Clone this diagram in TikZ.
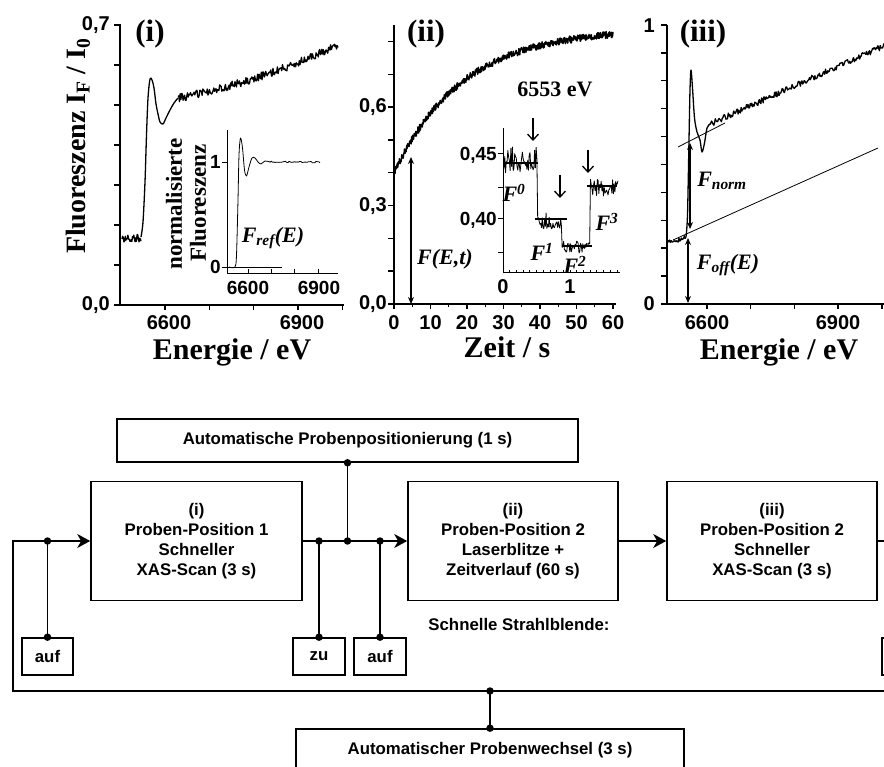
\documentclass[tikz,border=0pt]{standalone}
\usepackage{fontspec}
\setmainfont{Liberation Serif}
\setsansfont{Liberation Sans}
\usetikzlibrary{arrows.meta}
\begin{document}
\begin{tikzpicture}[x=1pt,y=-1pt,
  ax/.style={line width=1.4pt},
  crv/.style={line width=1.3pt,line join=round},
  thn/.style={line width=0.8pt,line join=round},
  tkl/.style={font=\sffamily\bfseries\fontsize{20}{20}\selectfont,inner sep=0pt},
  tks/.style={font=\sffamily\bfseries\fontsize{19}{19}\selectfont,inner sep=0pt},
  albl/.style={font=\rmfamily\bfseries\fontsize{30}{30}\selectfont,inner sep=0pt},
  ylbl/.style={font=\rmfamily\bfseries\fontsize{28}{28}\selectfont,inner sep=0pt,rotate=90},
  ilbl/.style={font=\rmfamily\bfseries\fontsize{23}{23}\selectfont,inner sep=0pt,rotate=90},
  plbl/.style={font=\rmfamily\bfseries\fontsize{31}{31}\selectfont,inner sep=0pt},
  ebl/.style={font=\rmfamily\bfseries\fontsize{22}{22}\selectfont,inner sep=0pt},
  fl/.style={font=\rmfamily\bfseries\itshape\fontsize{22}{22}\selectfont,inner sep=0pt},
  dbl/.style={line width=1.1pt,{Stealth[length=7pt,width=6pt]}-{Stealth[length=7pt,width=6pt]}},
  darr/.style={line width=1.3pt,-{Straight Barb[length=6pt,width=11pt]}},
  flow/.style={draw,line width=1.6pt,font=\sffamily\bfseries\fontsize{16.8}{20}\selectfont,align=center,inner sep=0pt},
  flowtxt/.style={font=\sffamily\bfseries\fontsize{16.8}{20}\selectfont,inner sep=0pt},
  wire/.style={line width=1.6pt,line join=miter},
  warr/.style={line width=1.6pt,line join=miter,-{Stealth[length=13pt,width=14pt,inset=4pt]}},
  jdot/.style={circle,fill=black,inner sep=0pt,minimum size=7.5pt},
]
\useasboundingbox (0,0) rectangle (884,767);
\pgfmathsetseed{7}

% ================= Panel (i) =================
\draw[ax] (120,24) -- (120,305) -- (344,305);
\foreach \k in {0,...,7} \draw[ax] (114,{305-40*\k}) -- (120,{305-40*\k});
\foreach \k in {0,...,4} \draw[ax] ({165+44.3*\k},305) -- ({165+44.3*\k},310);
\node[tkl,anchor=east] (i07) at (110,25) {0,7};
\node[tkl,anchor=east] (i00) at (110,305) {0,0};
\node[tkl] (i6600) at (169,323) {6600};
\node[tkl] (i6900) at (302,323) {6900};
\node[albl,anchor=base] (ixl) at (232,360) {Energie / eV};
\node[ylbl] (yl) at (78,146) {Fluoreszenz I\textsubscript{F} / I\textsubscript{0}};
\node[plbl] (pi) at (150,34) {(i)};
\draw[crv] plot[domain=122:141,samples=30] (\x,{238+4*rand});
\draw[crv] plot[smooth,tension=0.5] coordinates {(141,237) (143,222) (145,182) (146.5,135) (148,98) (150,79) (152,80) (154,88) (156,104) (158,114) (160,122) (163,124) (166,118) (170,110) (174,103) (178,98)};
\draw[crv] plot[domain=178:338,samples=220] (\x,{98-0.188*(\x-178)-0.000896*(\x-178)*(\x-178)+4*rand});

% inset (i)
\draw[thn] (227,130) -- (227,273) -- (338,273);
\draw[thn] (222,162) -- (227,162);
\draw[thn] (222,267) -- (227,267);
\foreach \xx in {248,271.3,294.7,318} \draw[thn] (\xx,273) -- (\xx,269);
\node[tks,anchor=east] (n1) at (221,162) {1};
\node[tks,anchor=east] (n0) at (221,267) {0};
\node[tks] (i2a) at (248,288) {6600};
\node[tks] (i2b) at (319,288) {6900};
\draw[thn] (227,267) -- (282,267);
\draw[thn] plot[smooth,tension=0.5] coordinates {(229,267) (235,267) (236.5,255) (238,200) (239,155) (240.5,138) (242.5,148) (244.5,170) (246.5,176) (249,167) (252,158) (255,158) (258,162) (261,164) (265,161) (270,162)};
\draw[thn] plot[domain=270:320,samples=40] (\x,{162+0.8*rand});
\node[ilbl] (nl1) at (174,204) {normalisierte};
\node[ilbl] (nl2) at (198,203) {Fluoreszenz};
\node[fl] (fref) at (273,238) {F\textsubscript{ref}(E)};

% ================= Panel (ii) =================
\draw[ax] (394,25) -- (394,304) -- (616,304);
\foreach \k in {0,...,8} \draw[ax] (388,{304-32.8*\k}) -- (394,{304-32.8*\k});
\foreach \t in {0,10,...,60} \draw[ax] ({394+3.65*\t},304) -- ({394+3.65*\t},309);
\foreach \t in {5,15,...,55} \draw[ax] ({394+3.65*\t},304) -- ({394+3.65*\t},307);
\foreach \t in {0,10,...,60} \node[tkl] (xt\t) at ({394+3.65*\t},323) {\t};
\node[tkl,anchor=east] (ii00) at (387,304) {0,0};
\node[tkl,anchor=east] (ii03) at (387,205.6) {0,3};
\node[tkl,anchor=east] (ii06) at (387,107.2) {0,6};
\node[albl,anchor=base] (iixl) at (507,358) {Zeit / s};
\node[plbl] (pii) at (426,34) {(ii)};
\node[ebl] (ev) at (555,89) {6553 eV};
\draw[line width=1.4pt,line join=round] plot[domain=0:60,samples=650] ({394+3.65*\x},{304-328*(0.84-0.44*exp(-\x/18.8))+3.5*rand});
\draw[dbl] (411,157) -- (411,304);
\node[fl] (fet) at (445,259) {F(E,t)};

% inset (ii)
\draw[line width=1pt] (503,128) -- (503,273) -- (620,273);
\foreach \yy in {154,188,219,253} \draw[line width=1pt] (498,\yy) -- (503,\yy);
\foreach \k in {0,...,17} \draw[line width=0.8pt] ({503+6.7*\k},273) -- ({503+6.7*\k},270);
\node[tks,anchor=east] (l45) at (497,155) {0,45};
\node[tks,anchor=east] (l40) at (497,220) {0,40};
\node[tkl] (l0) at (503,287) {0};
\node[tkl] (l1) at (570,287) {1};
\draw[thn] plot[domain=504:618,samples=150] (\x,{ifthenelse(\x<537,160,ifthenelse(\x<562,221,ifthenelse(\x<590,247,188))) + ifthenelse(\x<537,13,ifthenelse(\x<562,8,ifthenelse(\x<590,6,9)))*rand});
\draw[line width=1.4pt] (503,163) -- (538,163);
\draw[line width=1.4pt] (535,219) -- (567,219);
\draw[line width=1.4pt] (562,246) -- (592,246);
\draw[line width=1.4pt] (587,186) -- (617,186);
\draw[darr] (533,118) -- (533,141);
\draw[darr] (560,175) -- (560,198);
\draw[darr] (588,150) -- (588,173);
\node[fl] (f0) at (514,193) {F\textsuperscript{0}};
\node[fl] (f1) at (542,252) {F\textsuperscript{1}};
\node[fl] (f2) at (575,265) {F\textsuperscript{2}};
\node[fl] (f3) at (607,222) {F\textsuperscript{3}};

% ================= Panel (iii) =================
\draw[ax] (667,25) -- (667,304) -- (884,304);
\foreach \k in {0,...,10} \draw[ax] (661,{304-27.9*\k}) -- (667,{304-27.9*\k});
\foreach \k in {0,...,4} \draw[ax] ({707+43.7*\k},304) -- ({707+43.7*\k},309);
\node[tkl,anchor=east] (iii1) at (655,26) {1};
\node[tkl,anchor=east] (iii0) at (655,304) {0};
\node[tkl] (iii6600) at (707,323) {6600};
\node[tkl] (iii6900) at (838,323) {6900};
\node[albl,anchor=base] (iiixl) at (779,360) {Energie / eV};
\node[plbl] (piii) at (703,34) {(iii)};
\draw[crv] plot[domain=668:686,samples=24] (\x,{243-0.3*(\x-667)+2.5*rand});
\draw[crv] plot[smooth,tension=0.5] coordinates {(686,237) (687.5,215) (689,140) (690,90) (691,70) (692.5,88) (694.5,118) (697,132) (700,140) (702,152) (704.5,143) (707,128) (710,124)};
\draw[crv] plot[domain=710:884,samples=230] (\x,{124-0.45*(\x-710)+3*rand});
\draw[thn] (678,147) -- (725,123);
\draw[thn] (673,240) -- (878,148);
\draw[dbl] (690,143) -- (690,229);
\draw[dbl] (688,238) -- (688,303);
\node[fl] (fnorm) at (722,181) {F\textsubscript{norm}};
\node[fl] (foff) at (728,265) {F\textsubscript{off}(E)};

% ================= Flowchart =================
\node[flow,minimum width=461pt,minimum height=43pt] (tb) at (347.5,440.5) {Automatische Probenpositionierung (1 s)};
\node[flow,minimum width=211pt,minimum height=119pt] (b1) at (196.5,541) {(i)\\Proben-Position 1\\Schneller\\XAS-Scan (3 s)};
\node[flow,minimum width=210pt,minimum height=119pt] (b2) at (513,541) {(ii)\\Proben-Position 2\\Laserblitze +\\Zeitverlauf (60 s)};
\node[flow,minimum width=210pt,minimum height=119pt] (b3) at (772,541) {(iii)\\Proben-Position 2\\Schneller\\XAS-Scan (3 s)};
\node[flow,minimum width=51pt,minimum height=37pt] (a1) at (47.5,656.5) {auf};
\node[flow,minimum width=52pt,minimum height=37pt] (z) at (319,656.5) {zu};
\node[flow,minimum width=52pt,minimum height=37pt] (a2) at (380,656.5) {auf};
\node[flow,minimum width=52pt,minimum height=37pt] (a3) at (908,656.5) {};
\node[flow,minimum width=388pt,minimum height=42pt] (bb) at (490,750) {Automatischer Probenwechsel (3 s)};
\node[flowtxt] (sb) at (519,624) {Schnelle Strahlblende:};

\coordinate (lb) at (13,691);
\coordinate (rb) at (884,691);
\coordinate (re) at (884,541);
\draw[warr] (rb) -- (lb) -- (lb |- b1.west) -- (b1.west);
\coordinate (j0) at (a1.north |- b1.west);
\draw[wire] (j0) -- (a1.north);
\draw[warr] (b1.east) -- (b2.west);
\coordinate (j1) at (z.north |- b1.east);
\coordinate (j2) at (tb.south |- b1.east);
\coordinate (j3) at (a2.north |- b1.east);
\draw[wire] (j1) -- (z.north);
\draw[wire] (j2) -- (tb.south);
\draw[wire] (j3) -- (a2.north);
\draw[warr] (b2.east) -- (b3.west);
\draw[wire] (b3.east) -- (re);
\coordinate (jb) at (bb.north |- lb);
\draw[wire] (jb) -- (bb.north);
\node[jdot] (d0) at (j0) {};
\node[jdot] (d0b) at (a1.north) {};
\node[jdot] (d1) at (j1) {};
\node[jdot] (d1b) at (z.north) {};
\node[jdot] (d2) at (j2) {};
\node[jdot] (d2b) at (tb.south) {};
\node[jdot] (d3) at (j3) {};
\node[jdot] (d3b) at (a2.north) {};
\node[jdot] (d4) at (jb) {};
\node[jdot] (d4b) at (bb.north) {};
\end{tikzpicture}
\end{document}
